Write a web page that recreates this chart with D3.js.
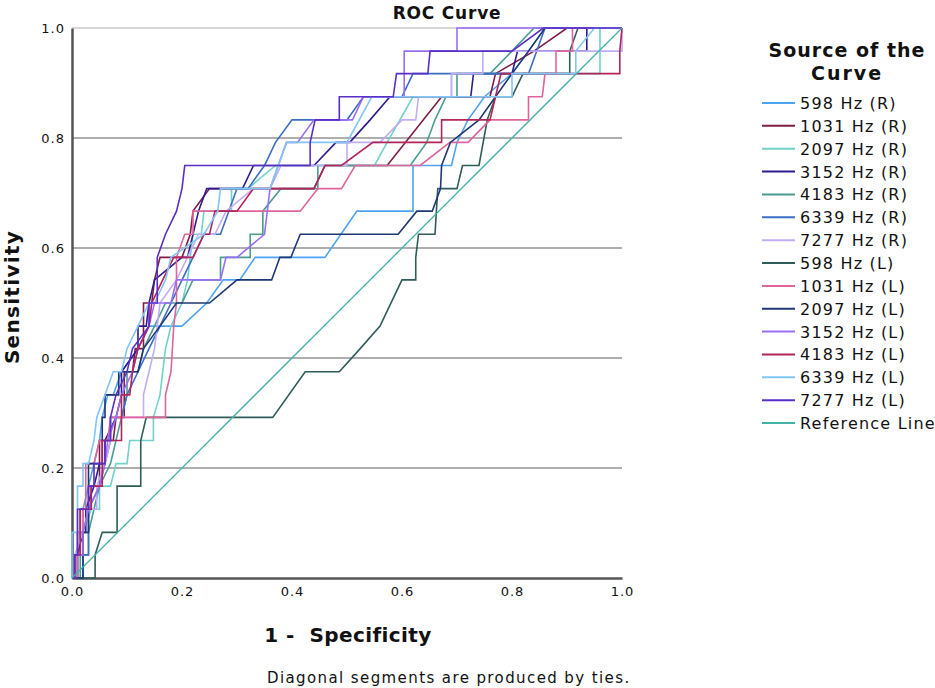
<!doctype html>
<html>
  <head>
    <meta charset="utf-8">
    <script src="https://cdn.jsdelivr.net/npm/d3@7"></script>
    <style>
      body { margin: 0; background: #fff; }
      text { font-family: "DejaVu Sans", Verdana, sans-serif; fill: #111; }
    </style>
  </head>
  <body>
    <div id="chart"></div>
    <script>
      // ROC points [1 - specificity, sensitivity]
      var r598 = [[0,0],[0.01,0],[0.01,0.083],[0.02,0.083],[0.02,0.125],[0.03,0.167],[0.04,0.208],[0.05,0.25],[0.055,0.292],[0.065,0.333],[0.075,0.333],[0.09,0.375],[0.12,0.417],[0.14,0.458],[0.2,0.458],[0.245,0.5],[0.275,0.542],[0.305,0.542],[0.333,0.583],[0.46,0.583],[0.518,0.667],[0.62,0.667],[0.62,0.75],[0.69,0.75],[0.7,0.792],[0.72,0.833],[0.75,0.875],[0.8,0.917],[0.83,0.958],[0.86,1],[1,1]];
      var r1031 = [[0,0],[0.005,0],[0.005,0.042],[0.015,0.042],[0.015,0.125],[0.035,0.125],[0.035,0.167],[0.05,0.167],[0.05,0.25],[0.075,0.25],[0.08,0.292],[0.095,0.292],[0.095,0.375],[0.11,0.375],[0.115,0.417],[0.13,0.417],[0.13,0.5],[0.145,0.5],[0.15,0.542],[0.16,0.583],[0.2,0.583],[0.215,0.625],[0.22,0.667],[0.25,0.708],[0.44,0.708],[0.46,0.75],[0.573,0.75],[0.672,0.875],[0.76,0.875],[0.77,0.917],[0.84,0.958],[0.9,1],[1,1]];
      var r2097 = [[0,0],[0.01,0],[0.01,0.042],[0.02,0.042],[0.02,0.083],[0.035,0.125],[0.05,0.125],[0.05,0.167],[0.07,0.167],[0.08,0.208],[0.1,0.208],[0.105,0.25],[0.148,0.25],[0.148,0.292],[0.16,0.333],[0.165,0.375],[0.17,0.417],[0.18,0.458],[0.2,0.5],[0.21,0.542],[0.215,0.583],[0.22,0.625],[0.235,0.625],[0.24,0.667],[0.29,0.667],[0.29,0.708],[0.32,0.708],[0.37,0.75],[0.55,0.75],[0.573,0.792],[0.62,0.875],[0.69,0.875],[0.69,0.917],[0.96,0.917],[0.96,1],[1,1]];
      var r3152 = [[0,0],[0.01,0],[0.01,0.042],[0.02,0.083],[0.025,0.083],[0.025,0.125],[0.04,0.167],[0.05,0.208],[0.06,0.208],[0.06,0.25],[0.08,0.292],[0.09,0.333],[0.09,0.375],[0.12,0.417],[0.12,0.458],[0.135,0.458],[0.14,0.5],[0.15,0.542],[0.2,0.583],[0.21,0.583],[0.23,0.667],[0.245,0.708],[0.31,0.708],[0.33,0.75],[0.44,0.75],[0.48,0.792],[0.505,0.792],[0.542,0.833],[0.578,0.875],[0.725,0.875],[0.73,0.917],[0.8,0.917],[0.81,0.958],[0.936,0.958],[0.936,1],[1,1]];
      var r4183 = [[0,0],[0.015,0],[0.015,0.042],[0.03,0.042],[0.03,0.083],[0.04,0.125],[0.05,0.167],[0.07,0.208],[0.08,0.25],[0.09,0.292],[0.1,0.333],[0.1,0.375],[0.12,0.375],[0.13,0.417],[0.15,0.458],[0.17,0.5],[0.2,0.5],[0.22,0.542],[0.27,0.542],[0.27,0.583],[0.324,0.583],[0.324,0.625],[0.347,0.625],[0.347,0.667],[0.38,0.708],[0.447,0.708],[0.447,0.75],[0.615,0.75],[0.645,0.792],[0.66,0.833],[0.68,0.875],[0.7,0.875],[0.7,0.917],[0.76,0.917],[0.8,0.958],[0.84,1],[1,1]];
      var r6339 = [[0,0],[0.02,0],[0.02,0.042],[0.03,0.042],[0.03,0.125],[0.05,0.167],[0.06,0.208],[0.07,0.25],[0.07,0.292],[0.09,0.292],[0.1,0.333],[0.12,0.375],[0.14,0.417],[0.16,0.458],[0.18,0.5],[0.2,0.542],[0.22,0.583],[0.24,0.625],[0.27,0.625],[0.3,0.708],[0.32,0.708],[0.35,0.75],[0.37,0.792],[0.4,0.833],[0.5,0.833],[0.53,0.875],[0.6,0.875],[0.62,0.917],[0.83,0.917],[0.845,0.958],[0.86,1],[1,1]];
      var r7277 = [[0,0],[0.005,0],[0.005,0.042],[0.02,0.083],[0.03,0.125],[0.045,0.125],[0.045,0.167],[0.06,0.208],[0.07,0.25],[0.07,0.292],[0.13,0.292],[0.13,0.333],[0.14,0.375],[0.15,0.417],[0.155,0.458],[0.16,0.5],[0.19,0.542],[0.21,0.583],[0.23,0.625],[0.26,0.625],[0.28,0.667],[0.33,0.708],[0.36,0.708],[0.38,0.75],[0.5,0.75],[0.5,0.792],[0.56,0.792],[0.6,0.833],[0.625,0.833],[0.63,0.875],[0.69,0.875],[0.69,0.917],[0.747,0.917],[0.747,0.958],[1,0.958],[1,1]];
      var l598 = [[0,0],[0.042,0],[0.042,0.042],[0.055,0.083],[0.082,0.083],[0.082,0.167],[0.125,0.167],[0.125,0.25],[0.135,0.292],[0.365,0.292],[0.424,0.375],[0.486,0.375],[0.524,0.417],[0.56,0.458],[0.6,0.542],[0.625,0.542],[0.625,0.583],[0.63,0.625],[0.66,0.625],[0.665,0.708],[0.7,0.708],[0.71,0.75],[0.74,0.75],[0.755,0.833],[0.77,0.875],[0.8,0.875],[0.82,0.917],[0.905,0.917],[0.905,0.958],[0.92,1],[1,1]];
      var l1031 = [[0,0],[0.01,0],[0.01,0.083],[0.02,0.083],[0.02,0.125],[0.025,0.125],[0.025,0.208],[0.04,0.208],[0.05,0.25],[0.065,0.25],[0.07,0.292],[0.17,0.292],[0.17,0.333],[0.18,0.375],[0.185,0.458],[0.19,0.5],[0.19,0.583],[0.205,0.625],[0.22,0.625],[0.22,0.667],[0.415,0.667],[0.447,0.708],[0.49,0.708],[0.515,0.75],[0.633,0.75],[0.687,0.792],[0.72,0.792],[0.76,0.833],[0.83,0.833],[0.83,0.875],[0.855,0.875],[0.86,0.917],[0.88,0.917],[0.88,0.958],[0.91,0.958],[0.91,1],[1,1]];
      var l2097 = [[0,0],[0.02,0],[0.02,0.083],[0.03,0.083],[0.03,0.208],[0.055,0.208],[0.055,0.292],[0.06,0.292],[0.06,0.333],[0.085,0.333],[0.085,0.375],[0.12,0.375],[0.13,0.417],[0.16,0.458],[0.19,0.5],[0.25,0.5],[0.3,0.542],[0.363,0.542],[0.378,0.583],[0.398,0.583],[0.415,0.625],[0.593,0.625],[0.627,0.667],[0.655,0.667],[0.67,0.708],[0.672,0.75],[0.688,0.792],[0.74,0.833],[0.77,0.875],[0.8,0.917],[0.83,0.958],[0.86,1],[1,1]];
      var l3152 = [[0,0],[0.005,0],[0.005,0.042],[0.02,0.042],[0.02,0.083],[0.03,0.125],[0.05,0.167],[0.06,0.208],[0.065,0.25],[0.08,0.292],[0.09,0.333],[0.11,0.375],[0.12,0.417],[0.14,0.458],[0.15,0.5],[0.18,0.5],[0.19,0.542],[0.27,0.542],[0.28,0.583],[0.3,0.583],[0.35,0.625],[0.36,0.708],[0.39,0.792],[0.41,0.792],[0.44,0.833],[0.51,0.833],[0.53,0.875],[0.604,0.875],[0.604,0.958],[0.7,0.958],[0.7,1],[1,1]];
      var l4183 = [[0,0],[0.005,0],[0.005,0.042],[0.015,0.042],[0.015,0.125],[0.035,0.125],[0.035,0.167],[0.055,0.167],[0.055,0.25],[0.09,0.25],[0.09,0.333],[0.105,0.333],[0.11,0.375],[0.12,0.417],[0.14,0.458],[0.145,0.5],[0.165,0.542],[0.185,0.583],[0.22,0.583],[0.24,0.625],[0.25,0.625],[0.26,0.667],[0.3,0.667],[0.33,0.708],[0.44,0.708],[0.46,0.75],[0.49,0.75],[0.547,0.792],[0.672,0.792],[0.672,0.833],[0.76,0.833],[0.77,0.875],[0.78,0.917],[0.996,0.917],[0.996,0.958],[1,1]];
      var l6339 = [[0,0],[0,0.083],[0.01,0.083],[0.01,0.167],[0.02,0.167],[0.02,0.208],[0.03,0.208],[0.04,0.25],[0.045,0.292],[0.06,0.333],[0.075,0.375],[0.09,0.375],[0.1,0.417],[0.12,0.458],[0.14,0.5],[0.15,0.5],[0.17,0.542],[0.18,0.583],[0.24,0.625],[0.265,0.667],[0.27,0.708],[0.36,0.708],[0.39,0.792],[0.5,0.792],[0.545,0.875],[0.8,0.875],[0.8,0.917],[0.916,0.917],[0.916,0.958],[0.95,1],[1,1]];
      var l7277 = [[0,0],[0.005,0],[0.005,0.042],[0.01,0.042],[0.01,0.125],[0.03,0.125],[0.03,0.167],[0.04,0.167],[0.04,0.208],[0.06,0.208],[0.06,0.25],[0.07,0.25],[0.07,0.292],[0.08,0.333],[0.1,0.375],[0.11,0.417],[0.14,0.458],[0.14,0.5],[0.155,0.5],[0.155,0.583],[0.17,0.625],[0.19,0.667],[0.2,0.708],[0.205,0.75],[0.433,0.75],[0.433,0.792],[0.442,0.833],[0.486,0.833],[0.486,0.875],[0.584,0.875],[0.59,0.917],[0.647,0.917],[0.651,0.958],[0.8,0.958],[0.857,1],[1,1]];
      var refLine = [[0,0],[1,1]];

      var seriesNames = ["598 Hz (R)","1031 Hz (R)","2097 Hz (R)","3152 Hz (R)","4183 Hz (R)","6339 Hz (R)","7277 Hz (R)",
                         "598 Hz (L)","1031 Hz (L)","2097 Hz (L)","3152 Hz (L)","4183 Hz (L)","6339 Hz (L)","7277 Hz (L)","Reference Line"];
      var seriesData = [r598, r1031, r2097, r3152, r4183, r6339, r7277, l598, l1031, l2097, l3152, l4183, l6339, l7277, refLine];
      var seriesColors = ["#4ea4f2","#7e1c48","#72d2cb","#2e1c8e","#4a9c92","#3b6ec4","#c3acf6",
                          "#2f5d59","#e0649c","#1f3774","#9c6ef6","#b2245a","#82c6f8","#5a2fc8","#42b3a8"];
      var tickValues = [0.0, 0.2, 0.4, 0.6, 0.8, 1.0];

      var margin = {top: 28, left: 72},
        width = 550,
        height = 550;

      var svg = d3.select("#chart")
        .append("svg")
          .attr("width", 935)
          .attr("height", 688);

      var g = svg.append("g")
        .attr("transform", "translate(" + margin.left + "," + margin.top + ")");

      var x = d3.scaleLinear().domain([0, 1]).range([0, width]);
      var y = d3.scaleLinear().domain([0, 1]).range([height, 0]);

      // horizontal grid lines
      g.selectAll(".grid")
        .data(tickValues.slice(1))
        .enter()
        .append("line")
          .attr("x1", 0)
          .attr("x2", width)
          .attr("y1", function(d) { return y(d); })
          .attr("y2", function(d) { return y(d); })
          .attr("stroke", function(d) { return d == 1 ? "#d6d6d6" : "#aeaeae"; })
          .attr("stroke-width", 2);

      // axes
      var xAxis = g.append("g")
        .attr("transform", "translate(0," + height + ")")
        .call(d3.axisBottom(x).tickValues(tickValues).tickSize(0).tickPadding(9).tickFormat(d3.format(".1f")));
      var yAxis = g.append("g")
        .call(d3.axisLeft(y).tickValues(tickValues).tickSize(0).tickPadding(7).tickFormat(d3.format(".1f")));
      [xAxis, yAxis].forEach(function(a) {
        a.select(".domain").attr("stroke", "#555").attr("stroke-width", 2.5);
        a.selectAll("text")
          .style("font-family", "DejaVu Sans, sans-serif")
          .style("font-size", "13px")
          .style("letter-spacing", "1px")
          .attr("fill", "#111");
      });

      // curves
      var line = d3.line()
        .x(function(d) { return x(d[0]); })
        .y(function(d) { return y(d[1]); });

      g.selectAll(".curve")
        .data(seriesData)
        .enter()
        .append("path")
          .attr("d", function(d) { return line(d); })
          .attr("stroke", function(d, i) { return seriesColors[i]; })
          .attr("stroke-width", function(d, i) { return i == 14 ? 1.3 : 1.6; })
          .attr("fill", "none");

      // titles
      svg.append("text")
        .attr("x", 447).attr("y", 19)
        .attr("text-anchor", "middle")
        .style("font-size", "17px").style("font-weight", "bold").style("letter-spacing", "0.8px")
        .text("ROC Curve");

      svg.append("text")
        .attr("transform", "translate(19,297) rotate(-90)")
        .attr("text-anchor", "middle")
        .style("font-size", "20px").style("font-weight", "bold").style("letter-spacing", "1.3px")
        .text("Sensitivity");

      svg.append("text")
        .attr("x", 348).attr("y", 642)
        .attr("text-anchor", "middle")
        .style("font-size", "20px").style("font-weight", "bold").style("letter-spacing", "0.4px")
        .attr("xml:space", "preserve")
        .text("1 -  Specificity");

      svg.append("text")
        .attr("x", 267).attr("y", 683)
        .style("font-size", "15px").style("letter-spacing", "1.4px")
        .text("Diagonal segments are produced by ties.");

      // legend
      var legend = svg.append("g");
      legend.append("text")
        .attr("x", 847).attr("y", 57)
        .attr("text-anchor", "middle")
        .style("font-size", "19px").style("font-weight", "bold").style("letter-spacing", "1px")
        .text("Source of the");
      legend.append("text")
        .attr("x", 847).attr("y", 80)
        .attr("text-anchor", "middle")
        .style("font-size", "19px").style("font-weight", "bold").style("letter-spacing", "2px")
        .text("Curve");

      var items = legend.selectAll(".item")
        .data(seriesNames)
        .enter()
        .append("g")
          .attr("transform", function(d, i) { return "translate(762," + (103 + i * 22.86) + ")"; });
      items.append("line")
        .attr("x1", 0).attr("x2", 33)
        .attr("y1", 0).attr("y2", 0)
        .attr("stroke", function(d, i) { return seriesColors[i]; })
        .attr("stroke-width", 2);
      items.append("text")
        .attr("x", 38).attr("y", 6)
        .style("font-size", "16px").style("letter-spacing", "1.2px")
        .text(function(d) { return d; });
    </script>
  </body>
</html>
